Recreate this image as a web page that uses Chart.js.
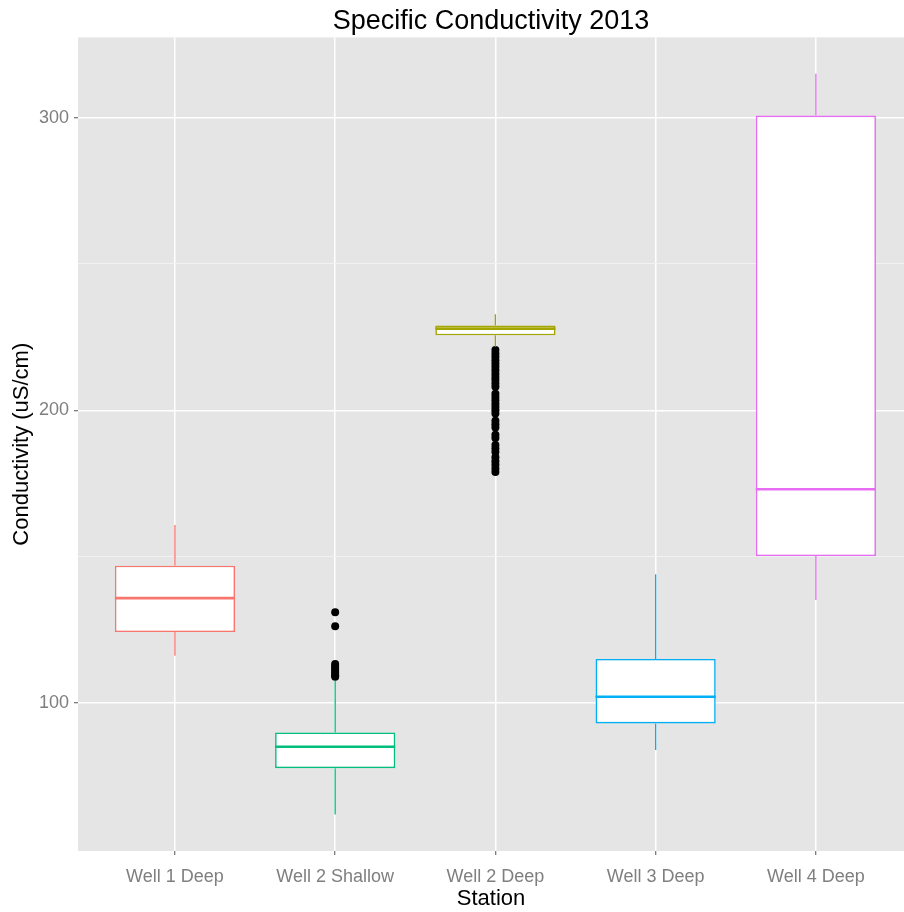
<!DOCTYPE html>
<html>
<head>
<meta charset="utf-8">
<script src="https://cdn.jsdelivr.net/npm/chart.js@4.4.1/dist/chart.umd.min.js"></script>
<style>
  html, body { margin: 0; padding: 0; background: #fff; overflow: hidden; }
  canvas { display: block; }
</style>
</head>
<body>
<canvas id="chart" width="904" height="912"></canvas>
<script>
// box plot summary per station
const stations = ['Well 1 Deep', 'Well 2 Shallow', 'Well 2 Deep', 'Well 3 Deep', 'Well 4 Deep'];
const lowerWhisker = [116.1, 61.9, 221.7, 83.9, 135.2];
const q1 = [124.2, 77.7, 225.6, 93.0, 150.2];
const medians = [135.8, 85.0, 227.9, 102.1, 173.0];
const q3 = [146.9, 89.9, 229.0, 115.0, 300.7];
const upperWhisker = [160.8, 107.5, 232.8, 144.0, 315.0];
const boxColors = ['#F8766D', '#00BF7D', '#A3A500', '#00B0F6', '#E76BF3'];

// outliers
const shallowOutliers = [131.0, 126.2, 113.3, 112.6, 112.0, 111.3, 110.6, 110.0, 109.4, 108.9];
const deepOutliers = [220.6, 219.4, 218.3, 217.1, 216.0, 214.9, 213.7, 212.5, 211.4, 210.3, 209.1, 208.0,
    205.6, 204.5, 203.4, 202.2, 201.1, 200.0, 198.9, 196.4, 195.2, 194.1, 191.6, 190.5,
    188.1, 186.9, 185.7, 183.9, 182.6, 181.4, 180.1, 178.9];

const yTicks = [100, 150, 200, 250, 300];

const positions = stations.map((s, i) => i + 1);

const boxData = positions.map((p, i) => ({ x: p, y: [q1[i], q3[i]] }));
const outlierData = shallowOutliers.map(v => ({ x: 2, y: v }))
    .concat(deepOutliers.map(v => ({ x: 3, y: v })));

const panelBackground = {
    id: 'panelBackground',
    beforeDraw(chart) {
        const { ctx, chartArea } = chart;
        ctx.save();
        ctx.fillStyle = '#E5E5E5';
        ctx.fillRect(chartArea.left, chartArea.top, chartArea.right - chartArea.left, chartArea.bottom - chartArea.top);
        ctx.restore();
    }
};

// whiskers and median lines
const boxExtras = {
    id: 'boxExtras',
    afterDatasetsDraw(chart) {
        const { ctx } = chart;
        const xs = chart.scales.x;
        const ys = chart.scales.y;
        const bars = chart.getDatasetMeta(0).data;
        ctx.save();
        positions.forEach((p, i) => {
            const x = xs.getPixelForValue(p);
            const half = bars[i].width / 2;
            ctx.strokeStyle = boxColors[i];
            ctx.lineWidth = 1.3;
            ctx.beginPath();
            ctx.moveTo(x, ys.getPixelForValue(q3[i]));
            ctx.lineTo(x, ys.getPixelForValue(upperWhisker[i]));
            ctx.moveTo(x, ys.getPixelForValue(q1[i]));
            ctx.lineTo(x, ys.getPixelForValue(lowerWhisker[i]));
            ctx.stroke();
            ctx.lineWidth = 2.6;
            ctx.beginPath();
            const my = ys.getPixelForValue(medians[i]);
            ctx.moveTo(x - half, my);
            ctx.lineTo(x + half, my);
            ctx.stroke();
        });
        ctx.restore();
    }
};

new Chart(document.getElementById('chart'), {
    type: 'bar',
    data: {
        datasets: [{
            label: 'box',
            data: boxData,
            backgroundColor: '#FFFFFF',
            borderColor: boxColors,
            borderWidth: 1.6,
            borderSkipped: false,
            barPercentage: 0.75,
            categoryPercentage: 1.0,
            order: 2
        }, {
            type: 'scatter',
            label: 'outliers',
            data: outlierData,
            backgroundColor: '#000000',
            borderWidth: 0,
            pointRadius: 4,
            order: 1
        }]
    },
    options: {
        responsive: false,
        animation: false,
        layout: { padding: 0, autoPadding: false },
        plugins: {
            legend: { display: false },
            tooltip: { enabled: false },
            title: {
                display: true,
                text: 'Specific Conductivity 2013',
                fullSize: false,
                color: '#000',
                font: { family: 'Liberation Sans', size: 27, weight: 'normal' },
                padding: { top: 5, bottom: 0 }
            }
        },
        scales: {
            x: {
                type: 'linear',
                min: 0.395,
                max: 5.55,
                offset: false,
                afterBuildTicks(scale) {
                    scale.ticks = positions.map(v => ({ value: v }));
                },
                afterFit(scale) {
                    scale.height = 61;
                    scale.paddingLeft = 0;
                    scale.paddingRight = 0;
                },
                border: { display: false },
                grid: {
                    offset: false,
                    color: '#FFFFFF',
                    lineWidth: 1.5,
                    drawTicks: true,
                    tickLength: 4,
                    tickColor: '#555555',
                    tickWidth: 1
                },
                ticks: {
                    color: '#7F7F7F',
                    padding: 11,
                    maxRotation: 0,
                    font: { family: 'Liberation Sans', size: 18 },
                    callback: v => stations[v - 1] || ''
                },
                title: {
                    display: true,
                    text: 'Station',
                    color: '#000',
                    padding: { top: 0, bottom: 0 },
                    font: { family: 'Liberation Sans', size: 22 }
                }
            },
            y: {
                type: 'linear',
                min: 49.4,
                max: 327.4,
                afterBuildTicks(scale) {
                    scale.ticks = yTicks.map(v => ({ value: v }));
                },
                afterFit(scale) {
                    scale.width = 78;
                    scale.paddingTop = 0;
                    scale.paddingBottom = 0;
                },
                border: { display: false },
                grid: {
                    color: ctx => (ctx.tick && ctx.tick.value % 100 !== 0) ? '#F2F2F2' : '#FFFFFF',
                    lineWidth: ctx => (ctx.tick && ctx.tick.value % 100 !== 0) ? 1 : 1.5,
                    drawTicks: true,
                    tickLength: 4,
                    tickColor: ctx => (ctx.tick && ctx.tick.value % 100 !== 0) ? 'rgba(0,0,0,0)' : '#555555',
                    tickWidth: 1
                },
                ticks: {
                    color: '#7F7F7F',
                    padding: 5,
                    font: { family: 'Liberation Sans', size: 18 },
                    callback: v => (v % 100 === 0 ? String(v) : '')
                },
                title: {
                    display: true,
                    text: 'Conductivity (uS/cm)',
                    color: '#000',
                    padding: { top: 9, bottom: 0 },
                    font: { family: 'Liberation Sans', size: 22 }
                }
            }
        }
    },
    plugins: [panelBackground, boxExtras]
});
</script>
</body>
</html>
